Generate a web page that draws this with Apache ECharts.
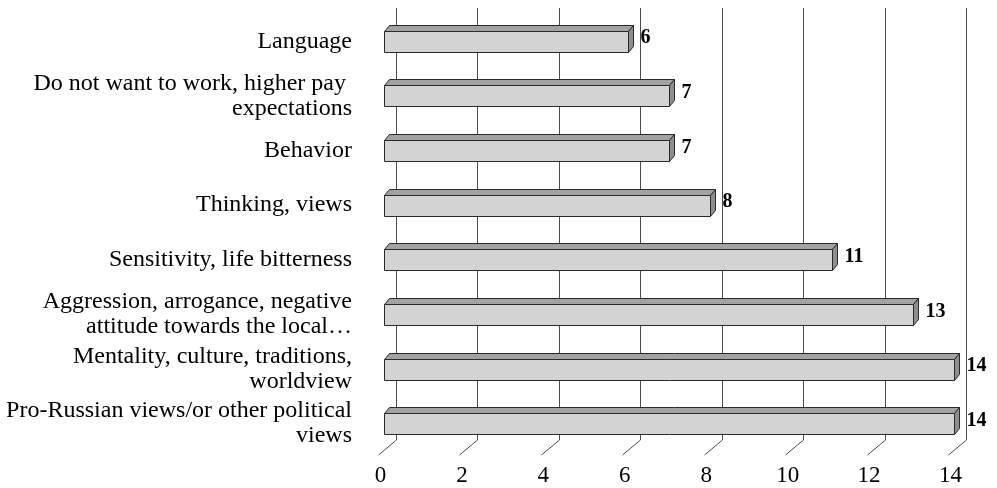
<!DOCTYPE html>
<html><head><meta charset="utf-8">
<script src="https://cdn.jsdelivr.net/npm/echarts@6/dist/echarts.min.js"></script>
<style>html,body{margin:0;padding:0;background:#fff}#c{width:997px;height:488px}</style>
</head><body><div id="c"></div>
<script>
const categories = [
  'Language',
  'Do not want to work, higher pay \nexpectations',
  'Behavior',
  'Thinking, views',
  'Sensitivity, life bitterness',
  'Aggression, arrogance, negative\nattitude towards the local\u2026',
  'Mentality, culture, traditions,\nworldview',
  'Pro-Russian views/or other political\nviews'
];
const values = [6, 7, 7, 8, 11, 13, 14, 14];
const xTicks = [0, 2, 4, 6, 8, 10, 12, 14];
const xMin = 0, xMax = 14, xInterval = 2;

const FONT = '"Liberation Serif","Times New Roman",serif';
const BAR_H = 21, BAR_DX = 5, BAR_DY = -6;
const WALL_DX = 12, WALL_TOP = -6, WALL_BOTTOM_INSET = 11, TICK_DX = -18, TICK_DY = 15;
const snap = v => Math.round(v) + 0.5;

const chart = echarts.init(document.getElementById('c'), null, {renderer: 'canvas'});

const option = {
  animation: false,
  grid: {left: 384, width: 570, top: 14, height: 437},
  xAxis: {
    type: 'value', min: xMin, max: xMax, interval: xInterval,
    axisLine: {show: false}, axisTick: {show: false}, splitLine: {show: false},
    axisLabel: {fontFamily: FONT, fontSize: 23, color: '#000', margin: 13, padding: [0, 7, 0, 0]}
  },
  yAxis: {
    type: 'category', data: categories, inverse: true,
    axisLine: {show: false}, axisTick: {show: false}, splitLine: {show: false},
    axisLabel: {fontFamily: FONT, fontSize: 24, color: '#000', margin: 32, lineHeight: 25, align: 'right'}
  },
  series: [
    {
      type: 'custom', z: 1, clip: false, silent: true,
      data: xTicks.map(v => [v, 0]),
      encode: {x: 0, y: 1},
      renderItem: function (params, api) {
        const cs = params.coordSys;
        const x = snap(api.coord([api.value(0), 0])[0] + WALL_DX);
        const yTop = cs.y + WALL_TOP;
        const yBot = cs.y + cs.height - WALL_BOTTOM_INSET;
        return {
          type: 'polyline',
          shape: {points: [[x, yTop], [x, yBot], [x + TICK_DX, yBot + TICK_DY]]},
          style: {stroke: '#4a4a4a', lineWidth: 1, fill: null}
        };
      }
    },
    {
      type: 'custom', z: 2, clip: false,
      data: values.map((v, i) => [v, i]),
      encode: {x: 0, y: 1},
      renderItem: function (params, api) {
        const v = api.value(0), i = api.value(1);
        const p0 = api.coord([0, i]);
        const p1 = api.coord([v, i]);
        const x0 = snap(p0[0]), x1 = snap(p1[0]), yc = p0[1];
        const yt = snap(yc - BAR_H / 2), yb = yt + BAR_H;
        const stroke = '#2a2a2a';
        return {
          type: 'group',
          children: [
            {type: 'polygon', shape: {points: [[x0, yt], [x0 + BAR_DX, yt + BAR_DY], [x1 + BAR_DX, yt + BAR_DY], [x1, yt]]},
              style: {fill: '#a2a2a2', stroke: stroke, lineWidth: 1}},
            {type: 'polygon', shape: {points: [[x1, yt], [x1 + BAR_DX, yt + BAR_DY], [x1 + BAR_DX, yb + BAR_DY], [x1, yb]]},
              style: {fill: '#8e8e8e', stroke: stroke, lineWidth: 1}},
            {type: 'rect', shape: {x: x0, y: yt, width: x1 - x0, height: BAR_H},
              style: {fill: '#d3d3d3', stroke: stroke, lineWidth: 1}},
            {type: 'text', x: x1 + 12, y: yc - 3,
              style: {text: String(v), fontFamily: FONT, fontSize: 20, fontWeight: 'bold', fill: '#000', align: 'left', verticalAlign: 'middle'}}
          ]
        };
      }
    }
  ]
};
chart.setOption(option);
</script>
</body></html>
